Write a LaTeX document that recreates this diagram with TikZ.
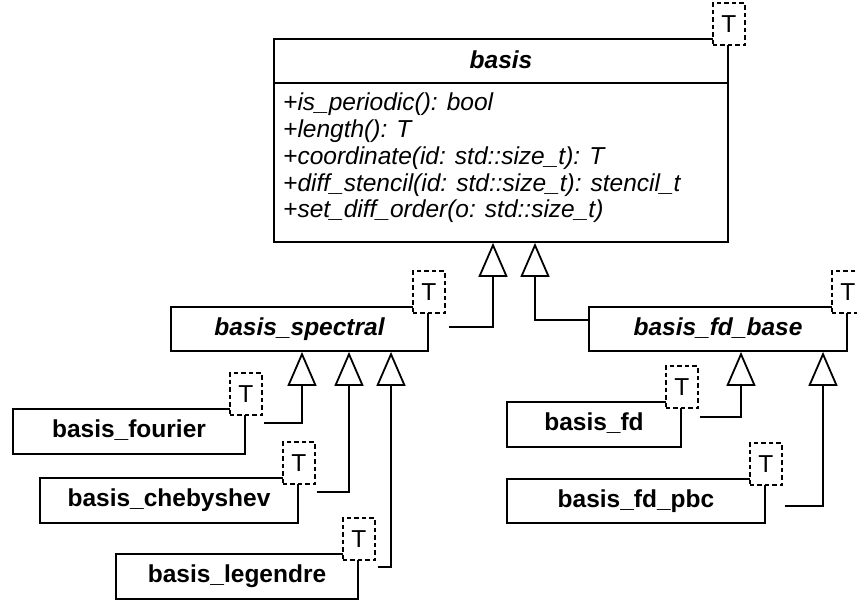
\documentclass[tikz,border=0pt]{standalone}
\usepackage{fontspec}
\setmainfont{Liberation Sans}
\usetikzlibrary{arrows.meta,calc}
\begin{document}
\begin{tikzpicture}[x=1pt,y=-1pt,
  umlfont/.style={font=\fontsize{24.5}{28}\selectfont},
  cls/.style={draw, line width=1.8pt, fill=white, inner sep=0pt,
    text height=17.5pt, text depth=5pt,
    font=\fontsize{24.5}{28}\selectfont\bfseries},
  abstractcls/.style={cls, font=\fontsize{24.5}{28}\selectfont\bfseries\itshape},
  member/.style={inner sep=0pt, anchor=base west,
    font=\fontsize{24.5}{28}\selectfont\itshape},
  tparam/.style={draw, dash pattern=on 4.5pt off 3pt, line width=1.6pt, fill=white,
    minimum width=32pt, minimum height=42pt, inner sep=0pt,
    font=\fontsize{24.5}{28}\selectfont},
  inh/.style={line width=1.8pt,
    -{Triangle[open, length=34pt, width=29pt, line width=1.8pt]}}
]
\useasboundingbox (0,0) rectangle (857,601);
\clip (0,0) rectangle (857,601);

% base class with its operations
\node[draw, line width=1.8pt, fill=white, minimum width=454pt, minimum height=203pt,
      inner sep=0pt] (basis) at (501,140.5) {};
\node[umlfont, font=\fontsize{24.5}{28}\selectfont\bfseries\itshape, anchor=base,
      inner sep=0pt] (basistitle) at (501,69) {basis};
\draw[line width=1.8pt] ($(basis.north west)+(0.9pt,-45pt)$) -- ($(basis.north east)+(-0.9pt,-45pt)$);
\node[member] (m1) at (283,111)    {+is\_periodic(): bool};
\node[member] (m2) at (283,137.75) {+length(): T};
\node[member] (m3) at (283,164.5)  {+coordinate(id: std::size\_t): T};
\node[member] (m4) at (283,191.25) {+diff\_stencil(id: std::size\_t): stencil\_t};
\node[member] (m5) at (283,218)    {+set\_diff\_order(o: std::size\_t)};

% intermediate abstract classes
\node[abstractcls, minimum width=257pt, minimum height=44pt] (spec)   at (299.5,329) {basis\_spectral};
\node[abstractcls, minimum width=258pt, minimum height=44pt] (fdbase) at (718,329)   {basis\_fd\_base};

% concrete classes
\node[cls, minimum width=232pt, minimum height=45pt] (fou)  at (129,431.5) {basis\_fourier};
\node[cls, minimum width=258pt, minimum height=45pt] (cheb) at (169,500.5) {basis\_chebyshev};
\node[cls, minimum width=242pt, minimum height=45pt] (leg)  at (237,576.5) {basis\_legendre};
\node[cls, minimum width=174pt, minimum height=45pt] (fd)   at (594,424.5) {basis\_fd};
\node[cls, minimum width=258pt, minimum height=44pt] (pbc)  at (636,501)   {basis\_fd\_pbc};

% template parameter boxes
\foreach \c in {basis,spec,fdbase,fou,cheb,leg,fd,pbc}
  \node[tparam] (T\c) at ([yshift=14pt]\c.north east) {T};

% generalisation arrows
\draw[inh] ($(Tspec.east |- spec.east)+(3pt,2pt)$) -| ($(basis.south)+(-8pt,0)$);
\draw[inh] ($(fdbase.west)+(0,9pt)$) -| ($(basis.south)+(34pt,0)$);
\draw[inh] ($(Tfou.east |- fou.east)+(1pt,8.5pt)$) -| ($(spec.south)+(2.5pt,0)$);
\draw[inh] ($(Tcheb.east |- cheb.east)+(1pt,8.5pt)$) -| ($(spec.south)+(49.5pt,0)$);
\draw[inh] ($(Tleg.east |- leg.east)+(2pt,9.5pt)$) -| ($(spec.south)+(91.5pt,0)$);
\draw[inh] ($(Tfd.east |- fd.east)+(1pt,7.5pt)$) -| ($(fdbase.south)+(23pt,0)$);
\draw[inh] ($(Tpbc.east |- pbc.east)+(2pt,-5pt)$) -| ($(fdbase.south)+(105pt,0)$);
\end{tikzpicture}
\end{document}
